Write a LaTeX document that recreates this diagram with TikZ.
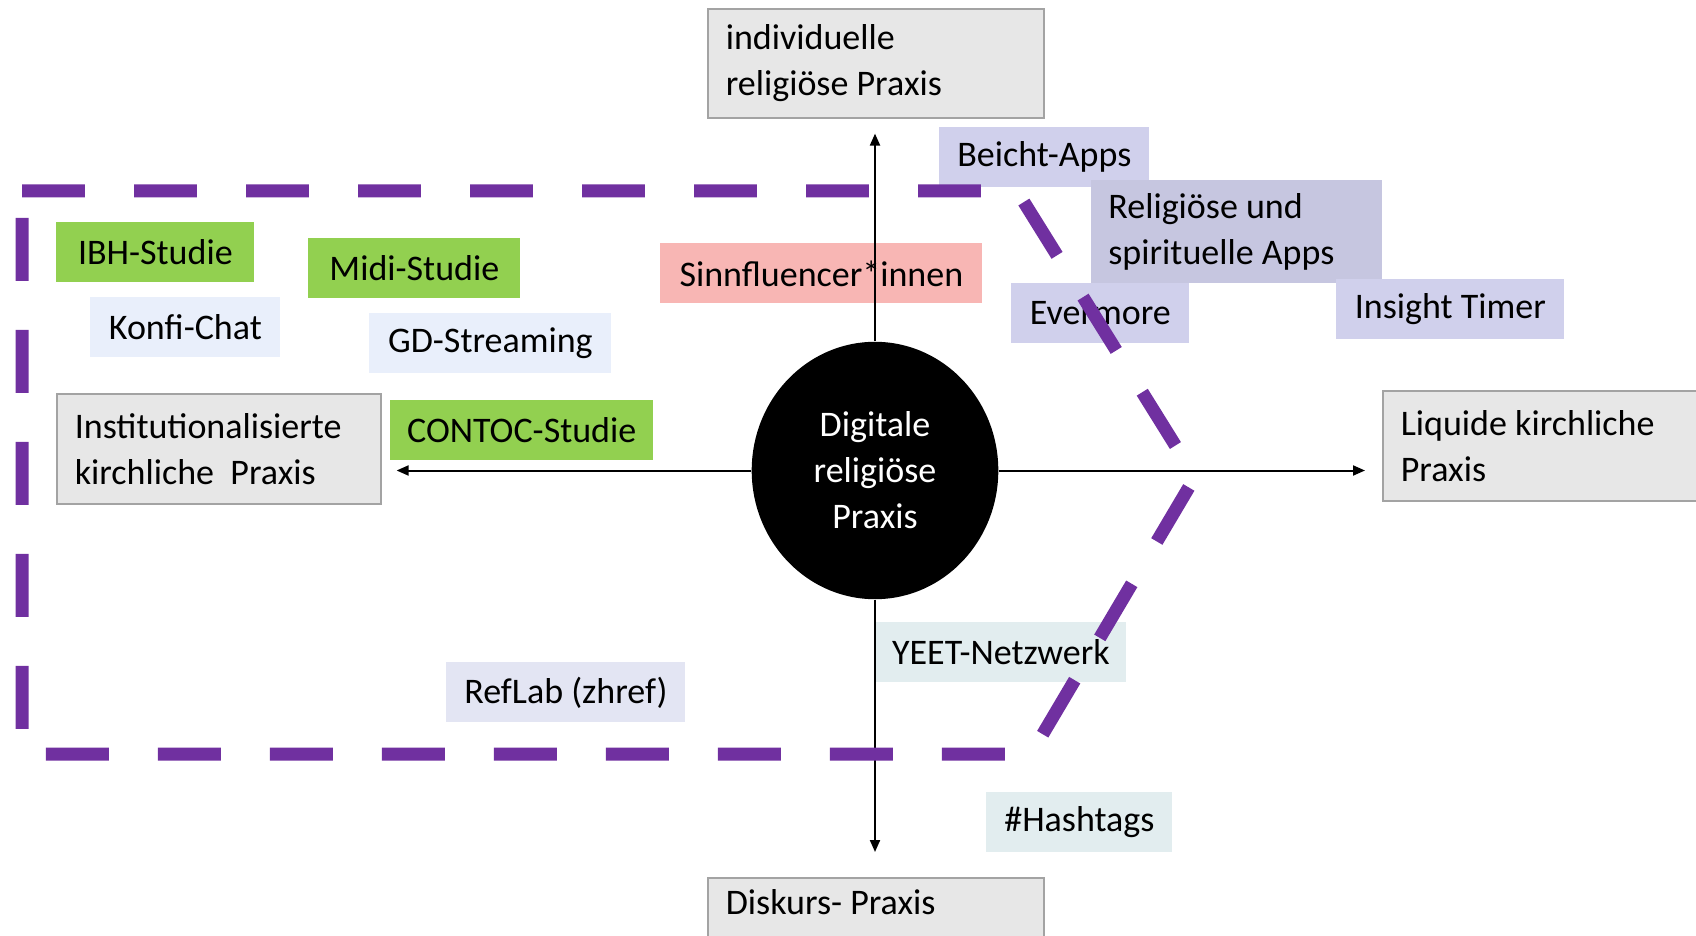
\documentclass[tikz,border=0pt]{standalone}
\usepackage{fontspec}
\setmainfont{Carlito}
\usetikzlibrary{arrows.meta,shapes.geometric}

\definecolor{boxgray}{HTML}{E7E7E7}
\definecolor{boxline}{HTML}{A3A3A3}
\definecolor{studygreen}{HTML}{92D050}
\definecolor{influpink}{HTML}{F8B6B4}
\definecolor{chatblue}{HTML}{E9EFFB}
\definecolor{applilac}{HTML}{D0D0EC}
\definecolor{labblue}{HTML}{E3E5F3}
\definecolor{netteal}{HTML}{E2EDEF}
\definecolor{fenceviolet}{HTML}{7030A0}

\begin{document}
\begin{tikzpicture}[x=0.5pt,y=-0.5pt,font=\fontsize{18}{23}\selectfont,
  pole/.style={draw=boxline,fill=boxgray,line width=0.8pt,anchor=north west,inner xsep=9pt,inner ysep=0pt,align=flush left},
  tag/.style={anchor=north west,inner sep=0pt,minimum height=30pt},
  hub/.style={ellipse,fill=black,text=white,minimum width=123.3pt,minimum height=128.7pt,inner sep=0pt,align=center},
  axis/.style={line width=1pt,-{Triangle[length=6pt,width=5pt]}},
  fence/.style={fenceviolet,line width=6.5pt,dash pattern=on 31.4pt off 24.6pt}]
  \useasboundingbox (0,0) rectangle (1696,936);
  \clip (0,0) rectangle (1696,936);

  % the four poles
  \node[pole,text width=150pt,minimum height=54.5pt] (indiv) at (707,8) {individuelle\\religiöse Praxis};
  \node[pole,text width=144pt,minimum height=55pt] (inst) at (56,393) {Institutionalisierte\\kirchliche\ \ Praxis};
  \node[pole,text width=152pt,minimum height=55pt] (liquid) at (1382,390) {Liquide kirchliche\\Praxis};
  \node[pole,text width=150pt,minimum height=54.5pt] (diskurs) at (707,877) {Diskurs- Praxis\\\strut};

  % studies
  \node[tag,fill=studygreen,minimum width=99pt] (ibh) at (56,222) {IBH-Studie};
  \node[tag,fill=studygreen,minimum width=106pt] (midi) at (308,238) {Midi-Studie};
  \node[tag,fill=studygreen,minimum width=131.4pt] (contoc) at (390,400) {CONTOC-Studie};
  % church formats
  \node[tag,fill=chatblue,minimum width=95pt] (konfi) at (90,297) {Konfi-Chat};
  \node[tag,fill=chatblue,minimum width=121pt] (gd) at (369,313) {GD-Streaming};
  \node[tag,fill=labblue,minimum width=119.5pt] (reflab) at (446,662) {RefLab (zhref)};
  \node[tag,fill=influpink,minimum width=161pt] (sinn) at (660,243) {Sinnfluencer*innen};
  % apps
  \node[tag,fill=applilac,minimum width=105pt] (beicht) at (939,127) {Beicht-Apps};
  \node[tag,fill=applilac!95!black,inner xsep=8.5pt,text width=128.5pt,minimum height=51.4pt,align=flush left] (relapps) at (1091,180) {Religiöse und\\spirituelle Apps};
  \node[tag,fill=applilac,minimum width=89pt] (evermore) at (1011,283) {Evermore};
  \node[tag,fill=applilac,minimum width=114pt] (insight) at (1336,279) {Insight Timer};
  % networks
  \node[tag,fill=netteal,minimum width=125.5pt] (yeet) at (875,622) {YEET-Netzwerk};
  \node[tag,fill=netteal,minimum width=93pt] (hashtags) at (986,792) {\#Hashtags};

  % centre and axes
  \node[hub] (hub) at (875,470.5) {Digitale\\religiöse\\Praxis};
  \draw[axis,shorten >=7.5pt] (hub.north) -- (hub.north |- indiv.south);
  \draw[axis,shorten >=12.5pt] (hub.south) -- (hub.south |- diskurs.north);
  \draw[axis,shorten >=7.5pt] (hub.west) -- (hub.west -| inst.east);
  \draw[axis,shorten >=8.5pt] (hub.east) -- (hub.east -| liquid.west);

  % dashed frame round the church side
  \draw[fence] (22,191) -- (1017,191) -- (1195,477) -- (1031,754) -- (22,754) -- cycle;
\end{tikzpicture}
\end{document}
